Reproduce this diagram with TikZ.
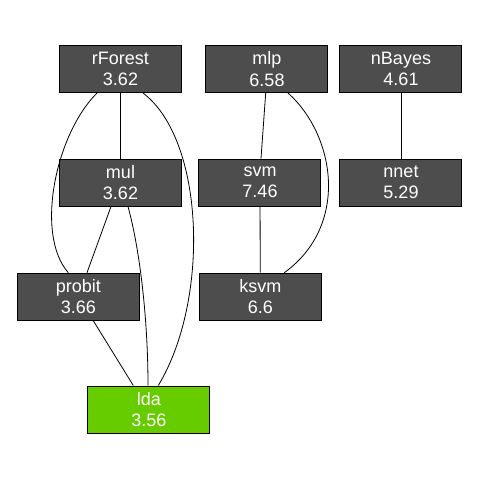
\documentclass[tikz,border=0pt]{standalone}
\usepackage{fontspec}
\setmainfont{Liberation Sans}
\definecolor{boxgray}{HTML}{4D4D4D}
\definecolor{boxgreen}{HTML}{66CC00}
\tikzset{
  model/.style={draw=black, line width=0.75pt, fill=boxgray, text=white,
    minimum width=91.5pt, minimum height=35.25pt, inner sep=0pt, align=center,
    font=\fontsize{13.5}{16}\selectfont},
  best/.style={model, fill=boxgreen},
  link/.style={draw=black, line width=0.6pt}
}
\begin{document}
\begin{tikzpicture}[x=0.75pt, y=-0.75pt]
\useasboundingbox (0,0) rectangle (480,480);
\node[model] (rF) at (120.5,69) {rForest\\3.62};
\node[model] (mlp) at (267,69) {mlp\\6.58};
\node[model] (nB) at (401,69) {nBayes\\4.61};
\node[model] (mul) at (120.5,182.5) {mul\\3.62};
\node[model] (svm) at (260,182.5) {svm\\7.46};
\node[model] (nnet) at (401,182.5) {nnet\\5.29};
\node[model] (pr) at (78.3,296.7) {probit\\3.66};
\node[model] (ksvm) at (260.3,296.7) {ksvm\\6.6};
\node[best] (lda) at (148.8,409.5) {lda\\3.56};

\draw[link] (rF) -- (mul);
\draw[link] ([shift={(-23.5,0)}]rF.south) .. controls (55,135) and (35,235) .. ([shift={(-10,0)}]pr.north);
\draw[link] ([shift={(22.5,0)}]rF.south) .. controls (205,140) and (210,300) .. ([shift={(9.5,0)}]lda.north);
\draw[link] ([shift={(-9.5,0)}]mul.south) -- ([shift={(8.7,0)}]pr.north);
\draw[link] ([shift={(7.5,0)}]mul.south) .. controls (140,250) and (148,320) .. ([shift={(-0.8,0)}]lda.north);
\draw[link] ([shift={(15,0)}]pr.south) -- ([shift={(-15.5,0)}]lda.north);
\draw[link] ([shift={(-1.3,0)}]mlp.south) -- ([shift={(1,0)}]svm.north);
\draw[link] ([shift={(21,0)}]mlp.south) .. controls (335,135) and (350,225) .. ([shift={(24,0)}]ksvm.north);
\draw[link] (svm) -- (ksvm);
\draw[link] (nB) -- (nnet);
\end{tikzpicture}
\end{document}
